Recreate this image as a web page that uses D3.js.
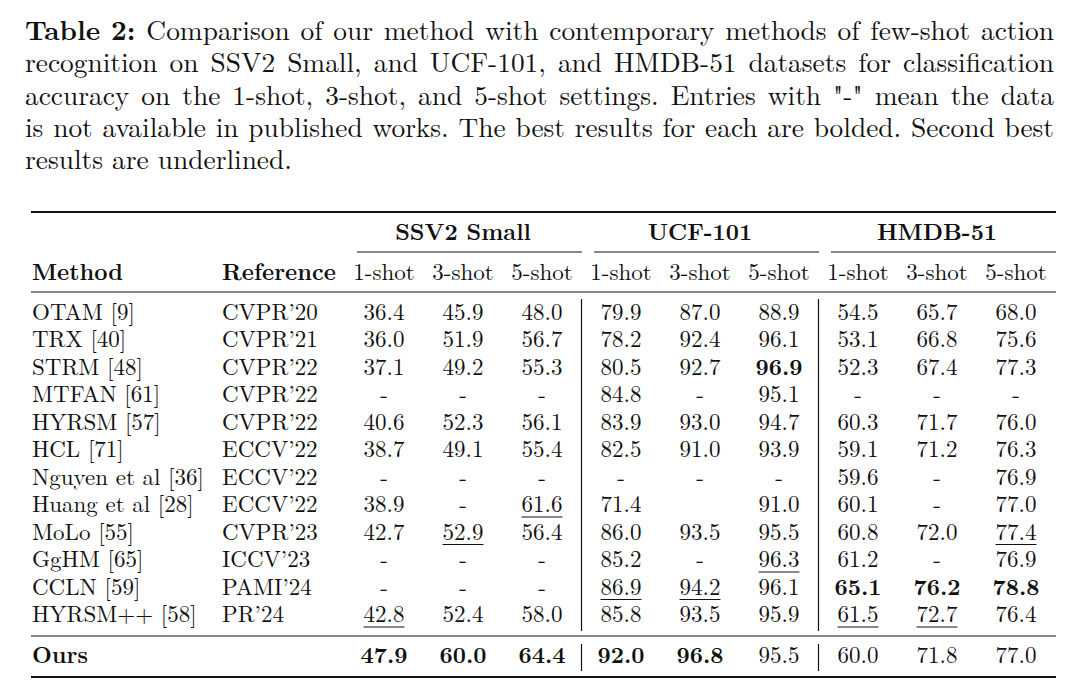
<!DOCTYPE html>
<html>
<head>
<meta charset="utf-8">
<script src="https://cdn.jsdelivr.net/npm/d3@7"></script>
<style>
  body { margin: 0; background: #fff; }
</style>
</head>
<body>
<div id="chart"></div>
<script>
(function() {

    var width = 1080,
    height = 691;

    var fontFamily = "'Latin Modern Roman', 'Liberation Serif', serif"

    // caption, one entry per printed line (last line is not justified)
    var captionLines = [
        "Table 2: Comparison of our method with contemporary methods of few-shot action",
        "recognition on SSV2 Small, and UCF-101, and HMDB-51 datasets for classification",
        "accuracy on the 1-shot, 3-shot, and 5-shot settings. Entries with \"-\" mean the data",
        "is not available in published works. The best results for each are bolded. Second best",
        "results are underlined."
    ];

    var datasets = ["SSV2 Small", "UCF-101", "HMDB-51"];
    var shots = ["1-shot", "3-shot", "5-shot"];

    var methods = ["OTAM [9]", "TRX [40]", "STRM [48]", "MTFAN [61]", "HYRSM [57]", "HCL [71]",
        "Nguyen et al [36]", "Huang et al [28]", "MoLo [55]", "GgHM [65]", "CCLN [59]", "HYRSM++ [58]"];
    var references = ["CVPR’20", "CVPR’21", "CVPR’22", "CVPR’22", "CVPR’22", "ECCV’22",
        "ECCV’22", "ECCV’22", "CVPR’23", "ICCV’23", "PAMI’24", "PR’24"];

    // "-" = not published, "" = left empty in the paper
    var ssv2 = [
        ["36.4", "45.9", "48.0"], ["36.0", "51.9", "56.7"], ["37.1", "49.2", "55.3"], ["-", "-", "-"],
        ["40.6", "52.3", "56.1"], ["38.7", "49.1", "55.4"], ["-", "-", "-"], ["38.9", "-", "61.6"],
        ["42.7", "52.9", "56.4"], ["-", "-", "-"], ["-", "-", "-"], ["42.8", "52.4", "58.0"]
    ];
    var ucf = [
        ["79.9", "87.0", "88.9"], ["78.2", "92.4", "96.1"], ["80.5", "92.7", "96.9"], ["84.8", "-", "95.1"],
        ["83.9", "93.0", "94.7"], ["82.5", "91.0", "93.9"], ["-", "-", "-"], ["71.4", "", "91.0"],
        ["86.0", "93.5", "95.5"], ["85.2", "-", "96.3"], ["86.9", "94.2", "96.1"], ["85.8", "93.5", "95.9"]
    ];
    var hmdb = [
        ["54.5", "65.7", "68.0"], ["53.1", "66.8", "75.6"], ["52.3", "67.4", "77.3"], ["-", "-", "-"],
        ["60.3", "71.7", "76.0"], ["59.1", "71.2", "76.3"], ["59.6", "-", "76.9"], ["60.1", "-", "77.0"],
        ["60.8", "72.0", "77.4"], ["61.2", "-", "76.9"], ["65.1", "76.2", "78.8"], ["61.5", "72.7", "76.4"]
    ];
    var ours = ["47.9", "60.0", "64.4", "92.0", "96.8", "95.5", "60.0", "71.8", "77.0"];

    // "row:col", row 12 is Ours
    var bestCells = ["2:5", "10:6", "10:7", "10:8", "12:0", "12:1", "12:2", "12:3", "12:4"];
    var secondCells = ["7:2", "8:1", "8:8", "9:5", "10:3", "10:4", "11:0", "11:6", "11:7"];

    var svg = d3.select("#chart")
        .append("svg")
        .attr("width", width)
        .attr("height", height)
        .style("font-family", fontFamily)

    // ---- caption, justified word by word
    var capSize = 27.4, capLeft = 25, capRight = 1054
    var capY = d3.scaleLinear().domain([0, 1]).range([40, 72.3])

    captionLines.forEach(function(line, i) {
        var words = line.split(" ")
        var g = svg.append("g")
        var texts = g.selectAll("text")
            .data(words)
            .enter().append("text")
            .attr("y", capY(i))
            .attr("fill", "#111")
            .style("font-family", fontFamily)
            .style("font-size", capSize + "px")
            .style("font-weight", function(d, j) { return (i === 0 && j < 2) ? "bold" : "normal" })
            .text(function(d) { return d })

        var widths = []
        texts.each(function() { widths.push(this.getComputedTextLength()) })
        var total = d3.sum(widths)
        var gap = (i < captionLines.length - 1) ? (capRight - capLeft - total) / (words.length - 1) : capSize * 0.333
        var x = capLeft
        texts.attr("x", function(d, j) {
            var cur = x
            x += widths[j] + gap
            return cur
        })
    })

    // ---- table
    var fs = 23
    var left = 31, right = 1056

    var x = d3.scalePoint().domain(d3.range(9)).range([384, 1016])
    var rowY = d3.scalePoint().domain(d3.range(methods.length)).range([319.5, 622])
    var oursY = 663
    var groupY = 240, shotY = 279.5
    var rules = { top: 212, cmid: 252, mid: 292, mid2: 636, bottom: 677 }

    function rule(y, x1, x2, w) {
        svg.append("line")
            .attr("x1", x1).attr("x2", x2)
            .attr("y1", y).attr("y2", y)
            .attr("stroke", "#111")
            .attr("stroke-width", w)
    }

    function label(xp, y, s, opts) {
        opts = opts || {}
        return svg.append("text")
            .attr("x", xp).attr("y", y)
            .attr("text-anchor", opts.anchor || "start")
            .attr("fill", "#111")
            .style("font-family", fontFamily)
            .style("font-size", fs + "px")
            .style("font-weight", opts.bold ? "bold" : "normal")
            .text(s)
    }

    rule(rules.top, left, right, 2)
    rule(rules.mid, left, right, 1.2)
    rule(rules.mid2, left, right, 1.2)
    rule(rules.bottom, left, right, 2)

    datasets.forEach(function(name, gi) {
        var c0 = gi * 3, c2 = gi * 3 + 2
        rule(rules.cmid, x(c0) - 27, x(c2) + 40, 1)
        label(x(c0 + 1), groupY, name, { anchor: "middle", bold: true })
    })

    // vertical separators between datasets
    ;[2, 5].forEach(function(c) {
        var vx = (x(c) + x(c + 1)) / 2
        svg.append("line")
            .attr("x1", vx).attr("x2", vx)
            .attr("y1", rules.mid + 7).attr("y2", rules.mid2 - 5)
            .attr("stroke", "#111").attr("stroke-width", 1.2)
        svg.append("line")
            .attr("x1", vx).attr("x2", vx)
            .attr("y1", rules.mid2 + 8).attr("y2", rules.bottom - 6)
            .attr("stroke", "#111").attr("stroke-width", 1.2)
    })

    // column header row
    label(32, shotY, "Method", { bold: true })
    label(222, shotY, "Reference", { bold: true })
    d3.range(9).forEach(function(c) {
        label(x(c), shotY, shots[c % 3], { anchor: "middle" })
    })

    // rows
    var rows = methods.map(function(m, i) {
        return {
            row: i, y: rowY(i), method: m, ref: references[i],
            values: ssv2[i].concat(ucf[i], hmdb[i])
        }
    })
    rows.push({ row: 12, y: oursY, method: "Ours", ref: "", values: ours })

    rows.forEach(function(r) {
        label(32, r.y, r.method, { bold: r.row === 12 })
        if (r.ref) label(222, r.y, r.ref)

        r.values.forEach(function(v, c) {
            if (!v) return
            var key = r.row + ":" + c
            var t = label(x(c), r.y, v, { anchor: "middle", bold: bestCells.indexOf(key) >= 0 })
            if (secondCells.indexOf(key) >= 0) {
                var w = t.node().getComputedTextLength()
                svg.append("line")
                    .attr("x1", x(c) - w / 2).attr("x2", x(c) + w / 2)
                    .attr("y1", r.y + 5).attr("y2", r.y + 5)
                    .attr("stroke", "#111").attr("stroke-width", 1)
            }
        })
    })

})();
</script>
</body>
</html>
